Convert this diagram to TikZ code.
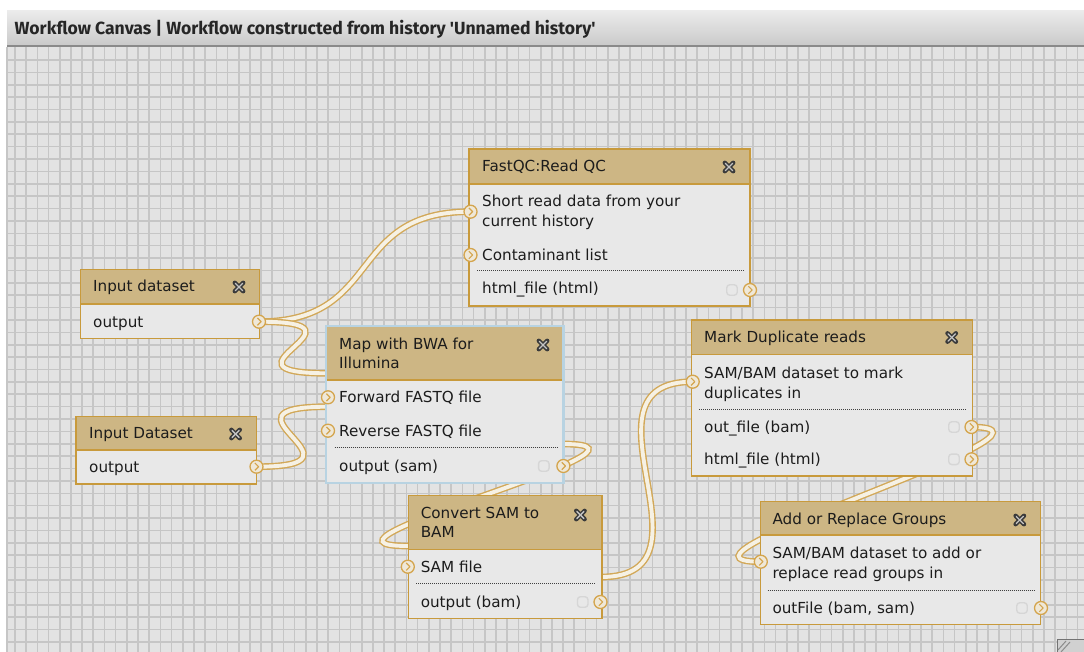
\documentclass[tikz,border=0pt]{standalone}
\usepackage{fontspec}
\setmainfont{DejaVu Sans}
\newfontfamily\hdrfont{Fira Sans}
\definecolor{canvasbg}{HTML}{E3E3E3}
\definecolor{gridcol}{HTML}{C6C6C6}
\definecolor{hdrtop}{HTML}{EBEBEB}
\definecolor{hdrbot}{HTML}{C9C9C9}
\definecolor{hdrline}{HTML}{8A8A8A}
\definecolor{boxborder}{HTML}{C89A3C}
\definecolor{hdrfill}{HTML}{CDB684}
\definecolor{bodyfill}{HTML}{E8E8E8}
\definecolor{bwablue}{HTML}{B8D3E2}
\definecolor{conntan}{HTML}{D2A858}
\definecolor{conncream}{HTML}{F6F1E4}
\definecolor{termcol}{HTML}{D4A54E}
\definecolor{termfill}{HTML}{EFE8D8}
\definecolor{xdark}{HTML}{3A3A3A}
\definecolor{xlight}{HTML}{C4C4C4}
\definecolor{txtcol}{HTML}{1C1C1C}
\newcommand{\wfbox}[7]{%
  \node[bodybox, minimum width=#4, minimum height=#5, anchor=north west] (#1) at (#2,#3) {};
  \node[hdrbox, minimum width=#4, minimum height=#6, anchor=north west] (#1h) at (#2,#3) {};
  \draw[boxline] (#1h.south west) -- (#1h.south east);
  \draw[#7] (#1.north west) rectangle (#1.south east);
}
\begin{document}
\begin{tikzpicture}[x=1pt,y=-1pt,
  gridline/.style={draw=gridcol, line width=1.6},
  bodybox/.style={rectangle, fill=bodyfill, inner sep=0, outer sep=0},
  hdrbox/.style={rectangle, fill=hdrfill, inner sep=0, outer sep=0},
  boxline/.style={draw=boxborder, line width=1.4},
  outline/.style={draw=boxborder, line width=1.4},
  bwaoutline/.style={draw=bwablue, line width=2.6},
  txt/.style={anchor=base west, inner sep=0, text=txtcol, font=\fontsize{15.2}{18}\selectfont},
  sepline/.style={draw=black!75, line width=1, dash pattern=on 1pt off 1pt},
  term/.style={circle, draw=termcol, line width=1.3, fill=termfill, minimum size=13, inner sep=0,
    path picture={\draw[termcol, line width=1.2, line join=round] (path picture bounding box.center) ++(-1.6,-3.7) -- ++(3.7,3.7) -- ++(-3.7,3.7);}},
  grayterm/.style={rectangle, rounded corners=3, draw=black!16, line width=1.4, fill=bodyfill, minimum size=10.5, inner sep=0},
  closex/.style={rectangle, minimum size=17, inner sep=0,
    path picture={
      \draw[line width=4.4, line cap=round, draw=xdark] (path picture bounding box.center) ++(-4.2,-4.2) -- ++(8.4,8.4);
      \draw[line width=4.4, line cap=round, draw=xdark] (path picture bounding box.center) ++(-4.2,4.2) -- ++(8.4,-8.4);
      \draw[line width=1.3, line cap=round, draw=xlight] (path picture bounding box.center) ++(-3.6,-3.6) -- ++(7.2,7.2);
      \draw[line width=1.3, line cap=round, draw=xlight] (path picture bounding box.center) ++(-3.6,3.6) -- ++(7.2,-7.2);
    }},
  conn/.style={draw=conntan, line width=1.4, double=conncream, double distance=3.9}
]
\useasboundingbox (0,0) rectangle (1084,652);
\fill[white] (0,0) rectangle (1084,652);
% canvas and grid
\fill[canvasbg] (7,47) rectangle (1084,652);
\foreach \i in {0,...,95} \draw[gridline] ({15+11.185*\i},47) -- ({15+11.185*\i},652);
\foreach \j in {0,...,48} \draw[gridline] (7,{60+12.38*\j}) -- (1084,{60+12.38*\j});
\draw[gridline] (7,47) -- (7,652);
% title bar
\shade[top color=hdrtop, bottom color=hdrbot] (7,11) rectangle (1084,46);
\draw[draw=hdrline, line width=1.6] (7,46.2) -- (1084,46.2);
\node[anchor=base west, inner sep=0, text=black!85, font=\hdrfont\bfseries\fontsize{17.6}{20}\selectfont] (bartitle) at (14.5,35)
  {Workflow Canvas | Workflow constructed from history 'Unnamed history'};

% connection end points
\coordinate (iaout) at (259,321.7);
\coordinate (ibout) at (256.5,466.7);
\coordinate (fqin1) at (470,211.7);
\coordinate (bwafwd) at (328,373.3);
\coordinate (bwarev) at (328,406.7);
\coordinate (bwaout) at (563,444);
\coordinate (cvin) at (408,546);
\coordinate (cvout) at (601,577);
\coordinate (mdin) at (692.7,381.7);
\coordinate (mdout) at (971,427);
\coordinate (arin) at (760.4,561.7);

% connectors
\draw[conn] (iaout) .. controls +(125,0) and +(-125,0) .. (fqin1);
\draw[conn] (iaout) .. controls +(125,0) and +(-125,0) .. (bwafwd);
\draw[conn] (ibout) .. controls +(125,0) and +(-125,0) .. (bwarev);
\draw[conn] (bwaout) .. controls +(130,0) and +(-130,0) .. (cvin);
\draw[conn] (cvout) .. controls +(125,0) and +(-125,0) .. (mdin);
\draw[conn] (mdout) .. controls +(125,0) and +(-125,0) .. (arin);

% FastQC
\wfbox{fq}{469}{149}{281}{157}{35}{outline}
\node[txt] (fqt) at (482,172) {FastQC:Read QC};
\node[closex] (fqx) at (729,167) {};
\node[txt] (fqr1) at (482,207) {Short read data from your};
\node[txt] (fqr2) at (482,227) {current history};
\node[txt] (fqr3) at (482,260.3) {Contaminant list};
\draw[sepline] (477,270.7) -- (744,270.7);
\node[txt] (fqo) at (482,293.8) {html\_file (html)};
\node[term] (fqi1t) at (470.5,211.7) {};
\node[term] (fqi2t) at (470.5,255) {};
\node[grayterm] (fqg) at (732,290) {};
\node[term] (fqot) at (750,290) {};

% Input dataset
\wfbox{ia}{80.5}{269.3}{179}{69.4}{34.7}{outline}
\node[txt] (iat) at (93,292) {Input dataset};
\node[closex] (iax) at (239,287) {};
\node[txt] (iao) at (93,327) {output};
\node[term] (iaot) at (259,321.7) {};

% Input Dataset
\wfbox{ib}{76}{416.3}{180.5}{67.7}{33.7}{outline}
\node[txt] (ibt) at (89,438.8) {Input Dataset};
\node[closex] (ibx) at (235.6,434) {};
\node[txt] (ibo) at (89,472) {output};
\node[term] (ibot) at (256.5,466.7) {};

% Map with BWA
\wfbox{bwa}{326}{326}{237.4}{157}{54}{bwaoutline}
\node[txt] (bwat1) at (339,349.3) {Map with BWA for};
\node[txt] (bwat2) at (339,368) {Illumina};
\node[closex] (bwax) at (543,345) {};
\node[txt] (bwar1) at (339,402.6) {Forward FASTQ file};
\node[txt] (bwar2) at (339,436) {Reverse FASTQ file};
\draw[sepline] (334.5,447.7) -- (557,447.7);
\node[txt] (bwao) at (339,471) {output (sam)};
\node[term] (bwai1t) at (328,397.3) {};
\node[term] (bwai2t) at (328,430.7) {};
\node[grayterm] (bwag) at (543.8,466) {};
\node[term] (bwaot) at (563.4,466) {};

% Convert SAM to BAM
\wfbox{cv}{408.2}{495.3}{193.8}{123}{54}{outline}
\node[txt] (cvt1) at (420.6,518.6) {Convert SAM to};
\node[txt] (cvt2) at (420.6,537) {BAM};
\node[closex] (cvx) at (580.4,515) {};
\node[txt] (cvr1) at (420.6,572) {SAM file};
\draw[sepline] (416,583.3) -- (595.5,583.3);
\node[txt] (cvo) at (420.6,607) {output (bam)};
\node[term] (cvit) at (407.8,566.7) {};
\node[grayterm] (cvg) at (582.7,602) {};
\node[term] (cvot) at (600.5,602) {};

% Mark Duplicate reads
\wfbox{md}{691.7}{320}{281}{156}{34.3}{outline}
\node[txt] (mdt) at (704,342.6) {Mark Duplicate reads};
\node[closex] (mdx) at (951.7,337.5) {};
\node[txt] (mdr1) at (704,378) {SAM/BAM dataset to mark};
\node[txt] (mdr2) at (704,398) {duplicates in};
\draw[sepline] (699.3,409.3) -- (966.7,409.3);
\node[txt] (mdo1) at (704,432.6) {out\_file (bam)};
\node[txt] (mdo2) at (704,464.6) {html\_file (html)};
\node[term] (mdit) at (692.7,381.7) {};
\node[grayterm] (mdg1) at (954,427) {};
\node[term] (mdo1t) at (971.5,427) {};
\node[grayterm] (mdg2) at (954,459.3) {};
\node[term] (mdo2t) at (971.5,459.3) {};

% Add or Replace Groups
\wfbox{ar}{760.4}{501.7}{280}{122.6}{33.3}{outline}
\node[txt] (art) at (772.3,524.6) {Add or Replace Groups};
\node[closex] (arx) at (1019.8,520) {};
\node[txt] (arr1) at (772.3,558) {SAM/BAM dataset to add or};
\node[txt] (arr2) at (772.3,578.6) {replace read groups in};
\draw[sepline] (767.7,590) -- (1035,590);
\node[txt] (aro) at (772.3,613.6) {outFile (bam, sam)};
\node[term] (arit) at (760.8,561.7) {};
\node[grayterm] (arg) at (1022,608) {};
\node[term] (arot) at (1041,608) {};

% resize handle
\node[rectangle, draw=black!55, fill=black!18, line width=1.2, anchor=north west, minimum width=30, minimum height=16, inner sep=0] (handle) at (1056.5,639) {};
\draw[black!45, line width=1] (1058,650) -- (1066,641) (1061,652) -- (1070,642);
\end{tikzpicture}
\end{document}
